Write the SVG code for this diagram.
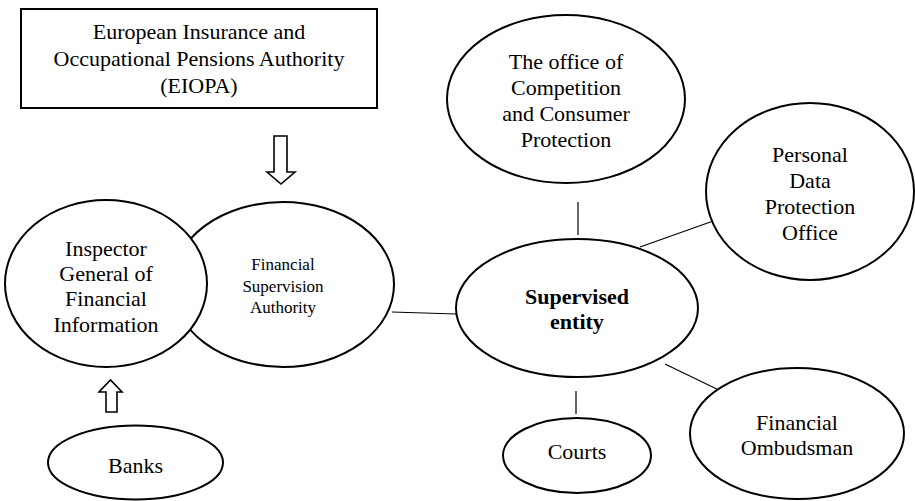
<svg xmlns="http://www.w3.org/2000/svg" width="915" height="501" viewBox="0 0 915 501">
<style>
.n{fill:#fff;stroke:#000;stroke-width:2}
text{font-family:'Liberation Serif','Times New Roman',serif;font-size:22px;fill:#000;text-anchor:middle}
.s{font-size:17px}
.b{font-weight:bold}
.c{stroke:#000;stroke-width:1.2;fill:none}
.a{fill:#fff;stroke:#000;stroke-width:1.6}
</style>
<rect width="915" height="501" fill="#fff"/>
<g id="connectors">
<line class="c" x1="392" y1="312" x2="456" y2="314"/>
<line class="c" x1="578" y1="202" x2="578" y2="235"/>
<line class="c" x1="640" y1="247" x2="716" y2="220"/>
<line class="c" x1="576" y1="391" x2="576" y2="414"/>
<line class="c" x1="665" y1="364" x2="725" y2="393"/>
<path class="a" d="M274,136 H287 V172 H295 L281,184 L267,172 H274 Z"/>
<path class="a" d="M106,412 H117 V392 H122 L110.5,380 L99,392 H106 Z"/>
</g>
<g id="eiopa">
<rect class="n" x="21" y="9" width="356" height="99"/>
<text x="199" y="39">European Insurance and</text>
<text x="199" y="66">Occupational Pensions Authority</text>
<text x="199" y="93">(EIOPA)</text>
</g>
<g id="fsa">
<ellipse class="n" cx="283" cy="284.5" rx="111" ry="82.5"/>
<text class="s" x="283" y="270">Financial</text>
<text class="s" x="283" y="292">Supervision</text>
<text class="s" x="283" y="313">Authority</text>
</g>
<g id="inspector">
<ellipse class="n" cx="106" cy="283.5" rx="101" ry="83.5"/>
<text x="106" y="256">Inspector</text>
<text x="106" y="281">General of</text>
<text x="106" y="306">Financial</text>
<text x="106" y="332">Information</text>
</g>
<g id="banks">
<ellipse class="n" cx="135.5" cy="462.5" rx="87.5" ry="37"/>
<text x="135.5" y="473">Banks</text>
</g>
<g id="competition">
<ellipse class="n" cx="566" cy="99" rx="119" ry="84"/>
<text x="566" y="69">The office of</text>
<text x="566" y="95">Competition</text>
<text x="566" y="121">and Consumer</text>
<text x="566" y="147">Protection</text>
</g>
<g id="personal-data">
<ellipse class="n" cx="810" cy="191.5" rx="104" ry="88.5"/>
<text x="810" y="162">Personal</text>
<text x="810" y="188">Data</text>
<text x="810" y="214">Protection</text>
<text x="810" y="240">Office</text>
</g>
<g id="supervised">
<ellipse class="n" cx="577" cy="308" rx="121" ry="69"/>
<text class="b" x="577" y="304">Supervised</text>
<text class="b" x="577" y="329">entity</text>
</g>
<g id="courts">
<ellipse class="n" cx="577" cy="455.5" rx="74" ry="37.5"/>
<text x="577" y="459">Courts</text>
</g>
<g id="ombudsman">
<ellipse class="n" cx="797" cy="433.5" rx="107" ry="65.5"/>
<text x="797" y="430">Financial</text>
<text x="797" y="455">Ombudsman</text>
</g>
</svg>
